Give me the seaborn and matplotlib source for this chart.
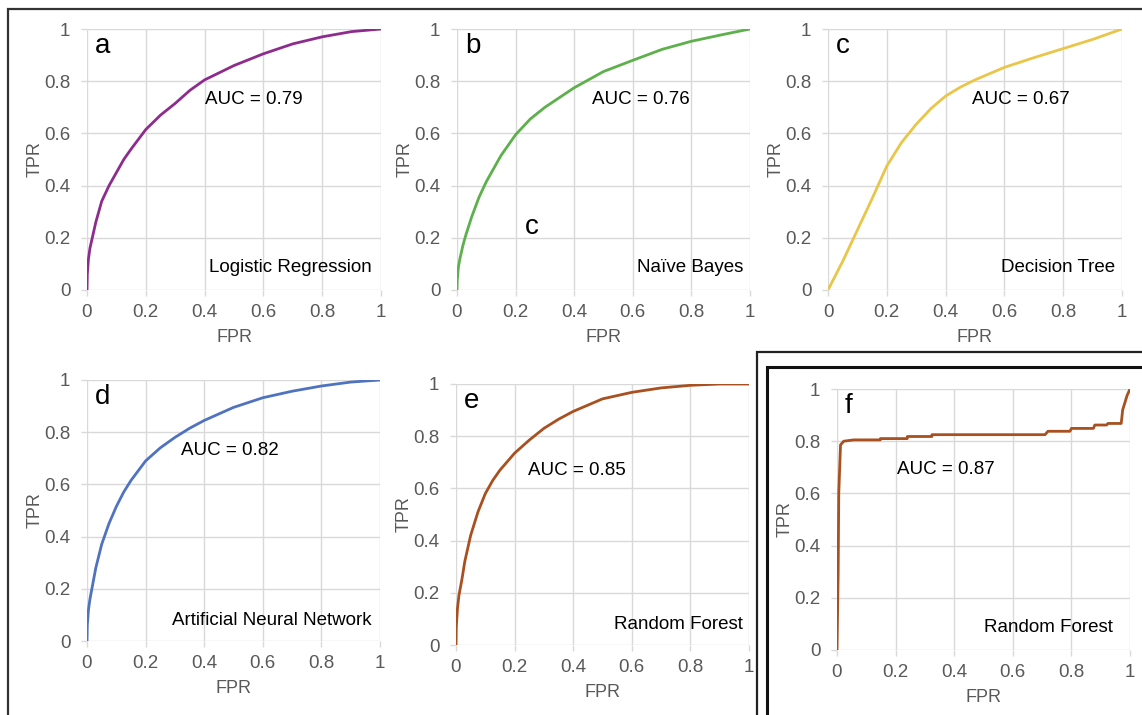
import matplotlib
matplotlib.use("Agg")
import matplotlib.pyplot as plt
import seaborn as sns
import pandas as pd
from matplotlib.patches import Rectangle

# ---------------- data ----------------
fpr_lr = [0, 0.001, 0.005, 0.01, 0.02, 0.03, 0.05, 0.075, 0.1, 0.125, 0.15, 0.2, 0.25, 0.3,
          0.35, 0.4, 0.5, 0.6, 0.7, 0.8, 0.9, 1.0]
tpr_lr = [0, 0.06, 0.12, 0.16, 0.21, 0.26, 0.34, 0.40, 0.45, 0.50, 0.54, 0.615, 0.67, 0.715,
          0.765, 0.805, 0.86, 0.905, 0.943, 0.97, 0.99, 1.0]

fpr_nb = [0, 0.001, 0.005, 0.01, 0.02, 0.03, 0.05, 0.075, 0.1, 0.15, 0.2, 0.25, 0.3, 0.4,
          0.5, 0.6, 0.7, 0.8, 0.9, 1.0]
tpr_nb = [0, 0.04, 0.09, 0.12, 0.17, 0.21, 0.28, 0.355, 0.415, 0.515, 0.595, 0.655, 0.70, 0.775,
          0.837, 0.88, 0.922, 0.953, 0.977, 1.0]

fpr_dt = [0, 0.05, 0.1, 0.15, 0.2, 0.25, 0.3, 0.35, 0.4, 0.45, 0.5, 0.6, 0.7, 0.8, 0.9, 1.0]
tpr_dt = [0, 0.11, 0.23, 0.35, 0.475, 0.565, 0.635, 0.695, 0.743, 0.777, 0.805, 0.853, 0.89,
          0.925, 0.96, 1.0]

fpr_ann = [0, 0.001, 0.005, 0.01, 0.02, 0.03, 0.05, 0.075, 0.1, 0.125, 0.15, 0.2, 0.25, 0.3,
           0.35, 0.4, 0.5, 0.6, 0.7, 0.8, 0.9, 1.0]
tpr_ann = [0, 0.06, 0.12, 0.16, 0.22, 0.28, 0.37, 0.45, 0.515, 0.57, 0.615, 0.69, 0.74, 0.78,
           0.815, 0.845, 0.895, 0.932, 0.957, 0.977, 0.992, 1.0]

fpr_rf = [0, 0.001, 0.005, 0.01, 0.02, 0.03, 0.05, 0.075, 0.1, 0.125, 0.15, 0.2, 0.25, 0.3,
          0.35, 0.4, 0.5, 0.6, 0.7, 0.8, 0.9, 1.0]
tpr_rf = [0, 0.07, 0.14, 0.19, 0.25, 0.32, 0.42, 0.51, 0.58, 0.63, 0.67, 0.735, 0.785, 0.83,
          0.865, 0.895, 0.943, 0.968, 0.985, 0.995, 1.0, 1.0]

fpr_rf2 = [0, 0.004, 0.006, 0.012, 0.023, 0.057, 0.148, 0.148, 0.24, 0.24, 0.324, 0.324,
           0.71, 0.72, 0.795, 0.80, 0.875, 0.88, 0.92, 0.925, 0.970, 0.975, 0.99, 1.0]
tpr_rf2 = [0, 0.30, 0.60, 0.786, 0.80, 0.805, 0.805, 0.81, 0.81, 0.818, 0.818, 0.825,
           0.825, 0.838, 0.838, 0.849, 0.849, 0.862, 0.862, 0.868, 0.868, 0.92, 0.975, 1.0]

models = ["Logistic Regression", "Naïve Bayes", "Decision Tree",
          "Artificial Neural Network", "Random Forest", "Random Forest"]
letters = ["a", "b", "c", "d", "e", "f"]
aucs = ["AUC = 0.79", "AUC = 0.76", "AUC = 0.67", "AUC = 0.82", "AUC = 0.85", "AUC = 0.87"]
colors = ["#8E2C8E", "#5DB04B", "#E9C649", "#4F73BF", "#A8501F", "#A8501F"]
ticks = [0, 0.2, 0.4, 0.6, 0.8, 1.0]
tick_labels = ["0", "0.2", "0.4", "0.6", "0.8", "1"]

series = [(fpr_lr, tpr_lr), (fpr_nb, tpr_nb), (fpr_dt, tpr_dt),
          (fpr_ann, tpr_ann), (fpr_rf, tpr_rf), (fpr_rf2, tpr_rf2)]

# ---------------- style ----------------
sns.set_theme(style="whitegrid")
plt.rcParams["font.family"] = ["Liberation Sans", "DejaVu Sans"]

W, H = 1142, 715
fig = plt.figure(figsize=(W / 100, H / 100), dpi=100)
fig.patch.set_facecolor("white")

# axes boxes in pixels: (x0, x1, ytop, ybottom)
boxes = [(87, 381, 29, 290), (457, 750, 29, 290), (828, 1122, 29, 290),
         (87, 380, 380, 641), (456, 749, 384, 645), (837, 1130, 389, 650)]

auc_pos = [(0.40, 0.73), (0.46, 0.73), (0.49, 0.73), (0.32, 0.73), (0.245, 0.67), (0.205, 0.69)]
name_pos = [(0.97, 0.085), (0.976, 0.085), (0.976, 0.085), (0.97, 0.08), (0.98, 0.08), (0.94, 0.085)]

# frame lines
fig.add_artist(Rectangle((8 / W, -0.1), 2, (715 - 9) / H + 0.1, transform=fig.transFigure,
                         fill=False, edgecolor="#333333", linewidth=1.6))
fig.add_artist(Rectangle((757 / W, -0.1), 2, (715 - 352) / H + 0.1, transform=fig.transFigure,
                         fill=False, edgecolor="#222222", linewidth=1.6))
fig.add_artist(Rectangle((767 / W, -0.1), 2, (715 - 367) / H + 0.1, transform=fig.transFigure,
                         fill=False, edgecolor="#111111", linewidth=2.2))

grid_c = "#D9D9D9"
for i, (x0, x1, yt, yb) in enumerate(boxes):
    ax = fig.add_axes([x0 / W, (H - yb) / H, (x1 - x0) / W, (yb - yt) / H])
    fpr, tpr = series[i]
    df = pd.DataFrame({"FPR": fpr, "TPR": tpr})
    sns.lineplot(data=df, x="FPR", y="TPR", ax=ax, color=colors[i], linewidth=2.0,
                 sort=False, estimator=None)
    ax.set_xlim(0, 1)
    ax.set_ylim(0, 1)
    ax.set_xticks(ticks)
    ax.set_xticklabels(tick_labels)
    ax.set_yticks(ticks)
    ax.set_yticklabels(tick_labels)
    ax.grid(True, color=grid_c, linewidth=1.0)
    for s in ax.spines.values():
        s.set_visible(False)
    ax.tick_params(axis="both", colors="#595959", labelsize=13.5, length=4, width=1,
                   color=grid_c, direction="out", left=True, bottom=True)
    ax.tick_params(axis="y", pad=8)
    ax.tick_params(axis="x", pad=6)
    ax.set_xlabel("FPR", fontsize=13, color="#595959", labelpad=6)
    ax.set_ylabel("TPR", fontsize=13, color="#595959", labelpad=0)
    ax.set_facecolor("white")
    ax.text(0.027, 0.935, letters[i], fontsize=20, color="black", va="center", ha="left")
    ax.text(auc_pos[i][0], auc_pos[i][1], aucs[i], fontsize=13.5, color="black",
            va="center", ha="left")
    ax.text(name_pos[i][0], name_pos[i][1], models[i], fontsize=13.5, color="black",
            va="center", ha="right")
    if i == 1:
        ax.text(0.23, 0.24, "c", fontsize=20, color="black", va="center", ha="left")

fig.savefig("out.png", dpi=100, facecolor="white")
